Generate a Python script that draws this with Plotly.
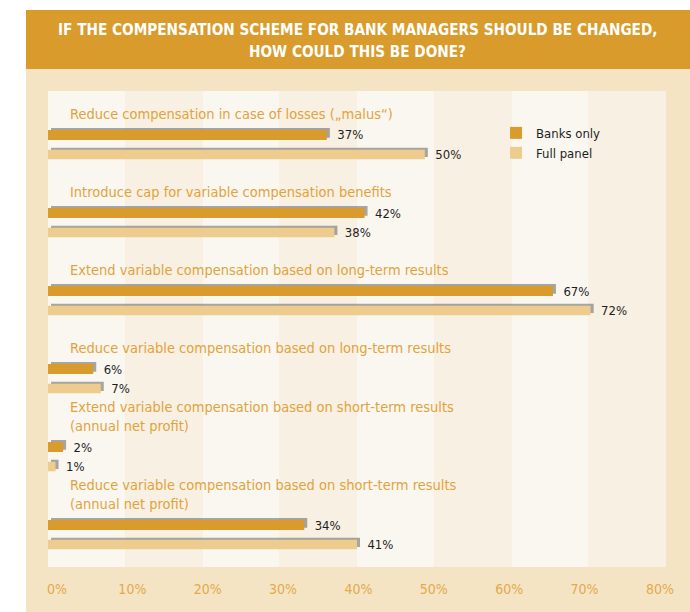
import plotly.graph_objects as go

# ---------------- data ----------------
categories = [
    "Reduce compensation in case of losses („malus“)",
    "Introduce cap for variable compensation benefits",
    "Extend variable compensation based on long-term results",
    "Reduce variable compensation based on long-term results",
    "Extend variable compensation based on short-term results<br>(annual net profit)",
    "Reduce variable compensation based on short-term results<br>(annual net profit)",
]
banks_only = [37, 42, 67, 6, 2, 34]
full_panel = [50, 38, 72, 7, 1, 41]
tick_values = [0, 10, 20, 30, 40, 50, 60, 70, 80]
tick_labels = ["0%", "10%", "20%", "30%", "40%", "50%", "60%", "70%", "80%"]
title_lines = ["IF THE COMPENSATION SCHEME FOR BANK MANAGERS SHOULD BE CHANGED,",
               "HOW COULD THIS BE DONE?"]

# ---------------- style ----------------
ORANGE = "#D99B2B"
BEIGE_BAR = "#EDCC8D"
PANEL = "#F4E4C3"
STRIPE_A = "#FAF7F1"
STRIPE_B = "#F8F0E3"
LABEL_COL = "#E2A33B"
TICK_COL = "#E3AA4C"
SHADOW = "rgba(110,110,110,0.6)"
FONT = "Liberation Sans Narrow, DejaVu Sans Condensed, Roboto Condensed, Arial Narrow, sans-serif"

pos = list(range(len(categories)))
banks_text = ["\u00a0\u00a0" + str(v) + "%" for v in banks_only]
full_text = ["\u00a0\u00a0" + str(v) + "%" for v in full_panel]

fig = go.Figure()

# shadows (behind bars)
fig.add_trace(go.Bar(x=banks_only, y=pos, orientation="h", base=0.4,
                     offset=-0.215, width=0.125, marker=dict(color=SHADOW, line_width=0),
                     showlegend=False, hoverinfo="skip"))
fig.add_trace(go.Bar(x=full_panel, y=pos, orientation="h", base=0.4,
                     offset=0.038, width=0.12, marker=dict(color=SHADOW, line_width=0),
                     showlegend=False, hoverinfo="skip"))

# main bars
fig.add_trace(go.Bar(x=banks_only, y=pos, orientation="h", name="Banks only",
                     offset=-0.189, width=0.128, marker=dict(color=ORANGE, line_width=0),
                     text=banks_text, textposition="outside", constraintext="none",
                     cliponaxis=False, hoverinfo="skip",
                     textfont=dict(family=FONT, size=13, color="#1E1E1E")))
fig.add_trace(go.Bar(x=full_panel, y=pos, orientation="h", name="Full panel",
                     offset=0.064, width=0.122, marker=dict(color=BEIGE_BAR, line_width=0),
                     text=full_text, textposition="outside", constraintext="none",
                     cliponaxis=False, hoverinfo="skip",
                     textfont=dict(family=FONT, size=13, color="#1E1E1E")))

shapes = []
# outer panel and title band
shapes.append(dict(type="rect", xref="paper", yref="paper", x0=-0.0356, x1=1.2,
                   y0=-0.3, y1=1.0462, fillcolor=PANEL, line_width=0, layer="below"))
shapes.append(dict(type="rect", xref="paper", yref="paper", x0=-0.0356, x1=1.2,
                   y0=1.0462, y1=1.1702, fillcolor=ORANGE, line_width=0, layer="below"))
# stripes
n = len(tick_values) - 1
for k in range(n):
    shapes.append(dict(type="rect", xref="paper", yref="paper", x0=k / n, x1=(k + 1) / n,
                       y0=0, y1=1, fillcolor=STRIPE_A if k % 2 == 0 else STRIPE_B,
                       line_width=0, layer="below"))

annotations = []
for i, c in enumerate(categories):
    annotations.append(dict(text=c, xref="paper", yref="y", x=0.033, y=i - 0.262,
                            xanchor="left", yanchor="bottom", showarrow=False, align="left",
                            font=dict(family=FONT, size=14.5, color=LABEL_COL)))
for line, ypos in zip(title_lines, [1.1292, 1.0819]):
    annotations.append(dict(text=line, xref="paper", yref="paper", x=0.5016, y=ypos,
                            xanchor="center", yanchor="middle", showarrow=False,
                            font=dict(family=FONT, size=15.2, color="white", weight="bold")))

fig.update_layout(
    width=690, height=612,
    margin=dict(l=48, r=24, t=91, b=45),
    paper_bgcolor="white", plot_bgcolor=STRIPE_A,
    barmode="overlay",
    shapes=shapes, annotations=annotations,
    showlegend=True,
    legend=dict(x=0.725, y=0.9434, xanchor="left", yanchor="top",
                bgcolor="rgba(0,0,0,0)", tracegroupgap=0,
                font=dict(family=FONT, size=13, color="#1E1E1E")),
    xaxis=dict(range=[0, 82], tickvals=tick_values, ticktext=tick_labels,
               showgrid=False, zeroline=False, showline=False, ticks="",
               tickfont=dict(family=FONT, size=14, color=TICK_COL),
               ticklabelstandoff=12, ticklabelshift=9, fixedrange=True),
    yaxis=dict(range=[5.413, -0.689], visible=False, fixedrange=True),
)

fig.write_html("out.html")
